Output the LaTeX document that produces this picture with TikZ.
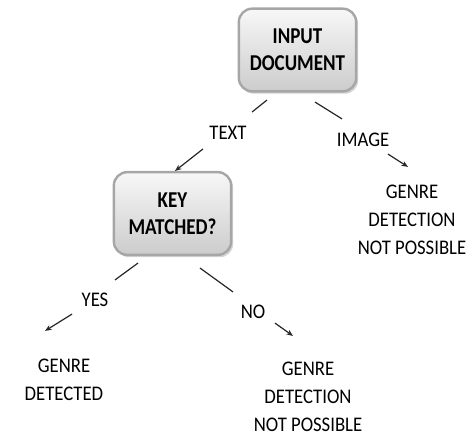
\documentclass[tikz,border=0pt]{standalone}
\usepackage{fontspec}
\setmainfont{Carlito}
\newfontfamily\tagfont{Carlito}[FakeStretch=0.9]
\newfontfamily\boxfont{Carlito}[FakeStretch=0.84]
\usetikzlibrary{arrows.meta,shadows}

\tikzset{
  block/.style={draw=gray!70, line width=1.8pt, rounded corners=10pt,
    top color=gray!6, bottom color=gray!40,
    minimum width=88pt, minimum height=62pt, align=center, inner sep=0pt,
    font=\boxfont\fontsize{17pt}{20.25pt}\selectfont\bfseries,
    drop shadow={opacity=0.35, shadow xshift=1.5pt, shadow yshift=-1.8pt}},
  branch/.style={inner sep=0pt, align=center,
    font=\tagfont\fontsize{15.6pt}{21pt}\selectfont},
  stub/.style={line width=0.9pt, draw=black!85},
  flow/.style={stub, -{Stealth[length=5pt, width=4pt]}},
}

\begin{document}
\begin{tikzpicture}[x=0.75pt, y=-0.75pt]
\useasboundingbox (0,0) rectangle (473,437);

\node[block] (input) at (297.5,50) {INPUT\\DOCUMENT};
\node[block] (key) at (172.5,213.5) {KEY\\MATCHED?};

\node[branch] (text) at (228,133) {TEXT};
\node[branch] (image) at (363,140) {IMAGE};
\node[branch] (yes) at (95,300) {YES};
\node[branch] (no) at (253,312) {NO};

\node[branch] (nogo1) at (412,220) {GENRE\\DETECTION\\NOT POSSIBLE};
\node[branch] (found) at (64,380) {GENRE\\DETECTED};
\node[branch] (nogo2) at (308,397) {GENRE\\DETECTION\\NOT POSSIBLE};

% input document
\draw[stub] ([shift={(-30.5,7.5)}]input.south) -- ([shift={(24,-14)}]text.north);
\draw[flow] ([shift={(-25,9)}]text.south) -- ([shift={(2.5,0)}]key.north);
\draw[stub] ([shift={(17.5,9.5)}]input.south) -- ([shift={(-21,-14)}]image.north);
\draw[flow] ([shift={(25,7)}]image.south) -- ([shift={(-4,-18)}]nogo1.north);

% key matched?
\draw[stub] ([shift={(-34.5,7)}]key.south) -- ([shift={(20,-13)}]yes.north);
\draw[flow] ([shift={(-23,7)}]yes.south) -- ([shift={(-19,-28)}]found.north);
\draw[stub] ([shift={(27.5,12)}]key.south) -- ([shift={(-20,-13)}]no.north);
\draw[flow] ([shift={(22,4)}]no.south) -- ([shift={(-15,-26)}]nogo2.north);
\end{tikzpicture}
\end{document}
